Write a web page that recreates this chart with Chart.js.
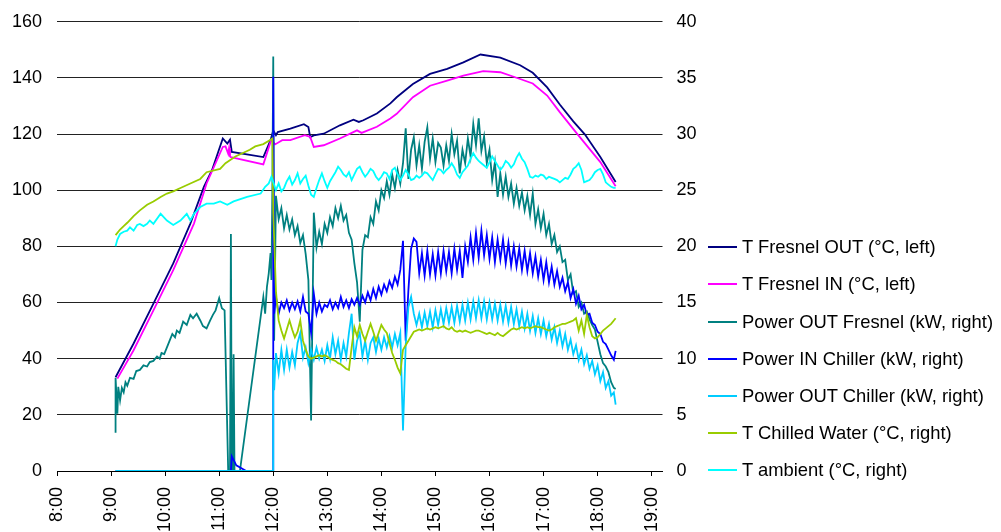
<!DOCTYPE html>
<html>
<head>
<meta charset="utf-8">
<script src="https://cdn.jsdelivr.net/npm/chart.js@4.4.0/dist/chart.umd.min.js"></script>
<style>
  html, body { margin: 0; padding: 0; background: #fff; overflow: hidden; }
  #wrap { position: relative; width: 1001px; height: 532px; }
  #legend { position: absolute; left: 708px; top: 0; font: 18.4px 'Liberation Sans', Arial, sans-serif; color: #000; }
  .item { position: absolute; left: 0; white-space: nowrap; height: 20px; line-height: 20px; }
  .swatch { position: absolute; left: 0; top: 9px; width: 29px; height: 2px; }
  .label { position: absolute; left: 34px; top: 0; }
</style>
</head>
<body>
<div id="wrap">
  <canvas id="chart" width="1001" height="532"></canvas>
  <div id="legend"></div>
</div>
<script>
// --- data ---
const seriesNames = [
  'T Fresnel OUT (°C, left)',
  'T Fresnel IN (°C, left)',
  'Power OUT Fresnel (kW, right)',
  'Power IN Chiller (kW, right)',
  'Power OUT Chiller (kW, right)',
  'T Chilled Water (°C, right)',
  'T ambient (°C, right)'
];
const seriesColors = ['#000080', '#FF00FF', '#008080', '#0000FF', '#00CCFF', '#99CC00', '#00FFFF'];

const hourTicks = ['8:00', '9:00', '10:00', '11:00', '12:00', '13:00', '14:00', '15:00', '16:00', '17:00', '18:00', '19:00'];

// temperatures of the collector (left axis)
const fresnelOutTimes = ['9:05', '9:25', '9:47', '10:09', '10:28', '10:43', '10:52', '11:04', '11:09', '11:12', '11:14', '11:49', '11:57', '12:00', '12:03', '12:05', '12:19', '12:34', '12:39', '12:41', '12:45', '12:56', '13:14', '13:29', '13:35', '13:40', '13:55', '14:10', '14:17', '14:35', '14:54', '15:13', '15:31', '15:50', '16:12', '16:34', '16:48', '17:04', '17:18', '17:33', '17:46', '18:03', '18:20'];
const fresnelOutValues = [33.4, 45.4, 59.6, 73.9, 88.1, 101.2, 107.1, 118.4, 116.6, 118.0, 113.6, 111.8, 117.8, 121.3, 119.6, 120.7, 121.9, 123.5, 122.5, 118.9, 119.5, 120.1, 123.1, 125.1, 124.3, 124.9, 127.3, 130.9, 133.1, 137.8, 141.4, 143.2, 145.5, 148.3, 147.2, 144.5, 141.8, 136.6, 130.5, 124.5, 119.8, 111.8, 102.9];

const fresnelInTimes = ['9:07', '9:25', '9:47', '10:09', '10:32', '10:46', '11:04', '11:07', '11:10', '11:11', '11:12', '11:13', '11:49', '11:57', '11:58', '12:02', '12:10', '12:19', '12:35', '12:41', '12:45', '12:56', '13:14', '13:33', '13:38', '13:55', '14:10', '14:17', '14:35', '14:54', '15:13', '15:31', '15:53', '16:12', '16:34', '16:48', '17:04', '17:18', '17:38', '18:03', '18:20'];
const fresnelInValues = [32.9, 43.0, 57.2, 71.5, 88.1, 102.4, 115.4, 115.6, 113.0, 115.0, 112.0, 111.8, 109.2, 117.2, 118.0, 116.3, 117.8, 117.8, 119.6, 119.0, 115.4, 116.0, 118.4, 121.3, 120.4, 122.6, 125.5, 127.2, 133.1, 137.2, 139.0, 140.8, 142.4, 142.0, 139.6, 138.0, 133.7, 127.8, 119.8, 110.0, 101.4];

// afternoon logger samples shared by the right-axis series
const pmTimes = [
  '12:03', '12:06', '12:09', '12:12', '12:15', '12:18', '12:21', '12:24', '12:27', '12:30',
  '12:33', '12:36', '12:39', '12:42', '12:45', '12:48', '12:51', '12:54', '12:57', '13:00',
  '13:03', '13:06', '13:09', '13:12', '13:15', '13:18', '13:21', '13:24', '13:27', '13:30',
  '13:33', '13:36', '13:39', '13:42', '13:45', '13:48', '13:51', '13:54', '13:57', '14:00',
  '14:03', '14:06', '14:09', '14:12', '14:15', '14:18', '14:21', '14:24', '14:27', '14:30',
  '14:33', '14:36', '14:39', '14:42', '14:45', '14:48', '14:51', '14:54', '14:57', '15:00',
  '15:03', '15:06', '15:09', '15:12', '15:15', '15:18', '15:21', '15:24', '15:27', '15:30',
  '15:33', '15:36', '15:39', '15:42', '15:45', '15:48', '15:51', '15:54', '15:57', '16:00',
  '16:03', '16:06', '16:09', '16:12', '16:15', '16:18', '16:21', '16:24', '16:27', '16:30',
  '16:33', '16:36', '16:39', '16:42', '16:45', '16:48', '16:51', '16:54', '16:57', '17:00',
  '17:03', '17:06', '17:09', '17:12', '17:15', '17:18', '17:21', '17:24', '17:27', '17:30',
  '17:33', '17:36', '17:39', '17:42', '17:45', '17:48', '17:51', '17:54', '17:57', '18:00',
  '18:03', '18:06', '18:09', '18:12', '18:15', '18:18', '18:20'
];

// Power OUT Fresnel (kW)
const powerOutFresnelAmTimes = ['9:05', '9:05', '9:07', '9:08', '9:10', '9:12', '9:14', '9:16', '9:18', '9:21', '9:25', '9:28', '9:32', '9:36', '9:40', '9:43', '9:47', '9:51', '9:54', '9:56', '9:59', '10:02', '10:05', '10:08', '10:11', '10:13', '10:16', '10:20', '10:24', '10:28', '10:31', '10:35', '10:39', '10:42', '10:46', '10:50', '10:53', '10:56', '11:00', '11:03', '11:06', '11:10', '11:12', '11:13', '11:14', '11:15', '11:16', '11:17', '11:23', '11:49', '11:51', '11:53', '11:55', '11:57', '11:58', '11:59', '12:00', '12:01'];
const powerOutFresnelAmValues = [3.4, 8.3, 5.1, 7.5, 6.3, 7.4, 7.0, 7.9, 7.6, 8.3, 8.2, 8.9, 9.0, 9.4, 9.3, 9.7, 9.8, 10.2, 10.0, 10.5, 10.4, 11.0, 11.6, 12.2, 11.9, 12.5, 12.3, 13.3, 13.0, 13.9, 13.6, 14.0, 13.4, 12.9, 12.7, 13.4, 13.9, 14.3, 15.4, 14.5, 14.3, 0, 0, 21.1, 0, 0, 10.4, 0, 0, 15.5, 14.0, 16.4, 17.6, 19.4, 17.0, 25.0, 36.9, 11.6];
const powerOutFresnelPmValues = [
  24.5, 22.4, 23.4, 21.6, 22.8, 21.5, 22.4, 21.0, 21.8, 20.3,
  21.0, 19.3, 17.0, 4.5, 23.0, 19.9, 21.3, 20.2, 22.0, 21.2,
  22.6, 21.8, 23.4, 22.5, 23.6, 22.3, 22.8, 21.2, 20.6, 18.5,
  16.8, 13.3, 19.7, 21.0, 20.8, 22.6, 22.0, 24.0, 23.2, 25.0,
  24.3, 25.8, 24.6, 26.4, 25.2, 26.8, 25.6, 27.4, 30.5, 26.0,
  28.6, 29.7, 27.2, 29.0, 26.9, 29.3, 30.6, 27.8, 29.6, 27.5,
  29.2, 28.8, 27.2, 29.0, 27.6, 30.0, 28.2, 29.4, 26.5, 28.6,
  27.4, 29.6, 28.0, 30.9, 29.0, 31.4, 28.5, 29.8, 27.4, 28.6,
  25.9, 27.5, 24.4, 26.5, 24.6, 26.2, 24.4, 25.6, 23.8, 25.2,
  23.6, 24.8, 23.2, 24.5, 22.8, 24.7, 22.0, 23.3, 21.6, 22.9,
  21.0, 22.0, 20.2, 21.0, 19.5, 20.0, 18.6, 18.8, 17.0, 17.5,
  15.8, 16.0, 14.6, 15.0, 14.0, 14.2, 13.5, 13.0, 12.6, 11.5,
  10.4, 9.6, 9.3, 8.8, 7.9, 7.4, 7.3
];

// Power IN Chiller (kW)
const powerInChillerAmTimes = ['9:05', '11:13', '11:14', '11:19', '11:30', '12:00', '12:00', '12:01'];
const powerInChillerAmValues = [0, 0, 1.3, 0.5, 0, 0, 35.1, 14.0];
const powerInChillerPmValues = [
  15.5, 14.0, 15.0, 14.5, 15.2, 14.3, 15.0, 14.4, 15.1, 14.2,
  15.5, 14.2, 14.0, 12.3, 15.8, 14.0, 15.0, 14.2, 14.8, 14.6,
  15.2, 14.4, 15.0, 14.5, 15.5, 14.6, 15.2, 14.5, 15.3, 14.8,
  15.4, 14.8, 15.6, 15.0, 15.9, 15.2, 16.2, 15.4, 16.4, 15.7,
  16.6, 16.0, 16.9, 16.3, 17.3, 16.6, 17.9, 20.5, 11.6, 16.1,
  19.8, 20.7, 20.4, 17.6, 19.4, 17.4, 19.6, 17.5, 19.3, 17.4,
  19.5, 17.6, 19.6, 17.8, 19.5, 17.6, 19.8, 17.9, 19.6, 17.2,
  20.0, 18.6, 20.8, 18.8, 21.2, 19.0, 21.4, 19.2, 21.0, 18.9,
  20.8, 18.6, 20.6, 18.8, 20.6, 18.5, 20.3, 18.3, 20.0, 18.2,
  19.8, 17.9, 19.6, 17.8, 19.4, 17.6, 19.1, 17.3, 18.8, 17.0,
  18.6, 16.8, 18.2, 16.6, 17.8, 16.4, 17.2, 16.0, 16.8, 15.4,
  16.2, 14.9, 15.6, 14.4, 14.8, 13.9, 14.0, 13.2, 13.0, 12.4,
  12.2, 11.5, 11.3, 10.8, 10.3, 9.9, 10.7
];

// Power OUT Chiller (kW)
const powerOutChillerAmTimes = ['9:05', '12:00', '12:00', '12:01'];
const powerOutChillerAmValues = [0, 0, 9.9, 7.2];
const powerOutChillerPmValues = [
  10.5, 8.7, 10.8, 9.0, 10.8, 9.2, 10.6, 9.4, 11.4, 12.3,
  10.1, 11.0, 9.6, 10.8, 9.9, 11.0, 10.0, 10.8, 9.8, 11.2,
  10.0, 11.9, 10.4, 11.6, 9.9, 11.4, 10.2, 12.3, 14.0, 9.9,
  11.6, 12.3, 10.2, 11.6, 9.9, 11.4, 11.9, 10.6, 11.8, 10.8,
  11.9, 11.0, 12.0, 11.0, 12.2, 11.2, 12.3, 3.6, 11.2, 14.6,
  15.5, 14.0, 13.0, 14.0, 12.8, 14.1, 12.9, 14.2, 12.8, 14.3,
  13.0, 14.4, 13.1, 14.5, 13.2, 14.6, 13.2, 14.7, 13.3, 14.8,
  13.4, 15.0, 13.5, 15.1, 13.6, 15.2, 13.6, 15.1, 13.5, 15.0,
  13.5, 14.9, 13.4, 14.8, 13.3, 14.7, 13.2, 14.6, 13.1, 14.4,
  12.9, 14.2, 12.7, 14.0, 12.5, 13.8, 12.3, 13.6, 12.2, 13.4,
  12.0, 13.1, 11.7, 12.8, 11.4, 12.5, 11.1, 12.2, 10.8, 11.7,
  10.4, 11.2, 9.9, 10.8, 9.5, 10.3, 9.1, 9.8, 8.6, 9.4,
  8.0, 8.8, 7.4, 8.0, 6.7, 7.0, 5.9
];

// T Chilled Water (°C)
const chilledWaterAmTimes = ['9:05', '9:10', '9:14', '9:18', '9:25', '9:32', '9:40', '9:47', '9:55', '10:02', '10:09', '10:17', '10:28', '10:39', '10:46', '11:01', '11:07', '11:18', '11:34', '11:40', '11:49', '11:57', '11:59', '12:00'];
const chilledWaterAmValues = [21.0, 21.5, 21.8, 22.1, 22.7, 23.2, 23.7, 24.0, 24.4, 24.7, 24.9, 25.2, 25.6, 26.0, 26.6, 26.9, 27.4, 28.0, 28.6, 28.9, 29.1, 29.5, 29.6, 23.0];
const chilledWaterPmValues = [
  16.0, 13.4, 12.5, 11.8, 12.6, 13.4, 12.6, 11.9, 12.4, 13.4,
  11.6, 10.8, 10.2, 10.0, 10.1, 10.2, 10.3, 10.2, 10.3, 10.2,
  10.0, 9.9, 9.8, 9.6, 9.5, 9.3, 9.1, 9.0, 11.0, 12.8,
  12.0, 13.0, 12.2, 11.6, 12.4, 13.1, 12.4, 11.6, 12.3, 13.0,
  12.6, 12.3, 11.4, 10.5, 9.9, 9.2, 8.7, 10.8, 11.2, 11.6,
  12.0, 12.4, 12.5, 12.6, 12.5, 12.6, 12.7, 12.6, 12.7, 12.8,
  12.7, 12.8, 12.9, 12.7, 12.6, 12.8, 12.5, 12.4, 12.5, 12.4,
  12.5, 12.4, 12.3, 12.4, 12.5, 12.5, 12.4, 12.3, 12.2, 12.3,
  12.2, 12.1, 12.3, 12.1, 12.0, 12.2, 12.4, 12.6, 12.7, 12.6,
  12.7, 12.8, 12.7, 12.8, 12.7, 12.8, 12.9, 12.8, 12.8, 12.7,
  12.6, 12.5, 12.6, 12.8, 12.9, 13.0, 13.1, 13.1, 13.2, 13.3,
  13.4, 13.6, 12.5, 13.4, 12.2, 13.9, 12.8, 12.0, 11.8, 11.9,
  12.2, 12.5, 12.7, 12.9, 13.1, 13.4, 13.6
];

// T ambient (°C)
const ambientAmTimes = ['9:05', '9:07', '9:10', '9:14', '9:18', '9:21', '9:25', '9:29', '9:32', '9:36', '9:40', '9:43', '9:47', '9:55', '10:02', '10:09', '10:17', '10:24', '10:28', '10:32', '10:39', '10:46', '10:54', '11:01', '11:09', '11:16', '11:31', '11:46', '11:51', '11:55', '11:58'];
const ambientAmValues = [20.0, 20.6, 21.1, 21.3, 21.4, 21.7, 21.4, 21.9, 22.0, 21.8, 22.0, 22.3, 22.0, 22.9, 22.3, 21.9, 22.3, 22.9, 22.3, 22.9, 23.5, 23.8, 23.8, 24.0, 23.7, 24.0, 24.4, 24.7, 25.3, 25.6, 26.2];
const ambientPmValues = [
  25.0, 25.6, 24.9, 25.2, 25.8, 26.2, 25.5, 25.9, 26.5, 25.6,
  26.0, 26.3, 25.4, 24.6, 24.4, 25.2, 25.9, 26.5, 25.8, 25.2,
  25.8, 26.2, 26.6, 27.1, 26.8, 26.4, 26.2, 26.6, 25.9, 26.4,
  26.9, 27.1, 26.6, 26.2, 26.5, 26.9, 26.7, 26.2, 25.9, 26.2,
  26.6, 26.5, 26.0, 26.8, 27.0, 26.4, 25.9, 26.3, 26.8, 26.4,
  25.9, 26.0, 26.3, 26.1, 26.3, 26.6, 26.5, 26.2, 25.9, 26.4,
  26.9, 26.8, 26.5, 26.8, 27.0, 27.4, 27.0, 26.4, 26.1, 26.6,
  26.9, 27.2, 27.8, 28.3, 27.9, 27.6, 27.4, 27.2, 27.0, 27.5,
  28.0, 27.6, 27.2, 26.8, 27.1, 27.6, 27.4, 27.0, 27.3, 27.9,
  28.3, 27.8, 27.5, 26.9, 26.2, 26.1, 26.3, 26.2, 26.4, 26.3,
  26.0, 26.2, 26.1, 26.0, 25.9, 25.7, 25.9, 26.1, 26.0, 26.4,
  26.9, 27.1, 27.4, 26.8, 25.7, 25.8, 25.9, 26.2, 26.6, 26.8,
  26.9, 26.4, 25.7, 25.5, 25.3, 25.2, 25.2
];

// --- helpers ---
const toHours = (t) => {
  const [h, m] = t.split(':').map(Number);
  return h + m / 60;
};
const toPoints = (times, values) => times.map((t, i) => ({ x: toHours(t), y: values[i] }));
const joined = (amTimes, amValues, pmValues) => toPoints(amTimes, amValues).concat(toPoints(pmTimes, pmValues));

const seriesData = [
  toPoints(fresnelOutTimes, fresnelOutValues),
  toPoints(fresnelInTimes, fresnelInValues),
  joined(powerOutFresnelAmTimes, powerOutFresnelAmValues, powerOutFresnelPmValues),
  joined(powerInChillerAmTimes, powerInChillerAmValues, powerInChillerPmValues),
  joined(powerOutChillerAmTimes, powerOutChillerAmValues, powerOutChillerPmValues),
  joined(chilledWaterAmTimes, chilledWaterAmValues, chilledWaterPmValues),
  joined(ambientAmTimes, ambientAmValues, ambientPmValues)
];
const axisOf = ['y', 'y', 'y1', 'y1', 'y1', 'y1', 'y1'];

const tickFont = { family: "'Liberation Sans', Arial, sans-serif", size: 18 };
const hourLabel = (v) => {
  const lbl = hourTicks.find(t => toHours(t) === v);
  return lbl || '';
};
// fixed axis box, and no extra label padding pushing the plot down
const fixWidth = (w) => (s) => {
  s.width = w;
  s.paddingTop = 0;
  s.paddingBottom = 0;
};

const datasets = seriesNames.map((name, i) => ({
  label: name,
  data: seriesData[i],
  yAxisID: axisOf[i],
  borderColor: seriesColors[i],
  backgroundColor: seriesColors[i],
  borderWidth: 1.8,
  pointRadius: 0,
  tension: 0,
  fill: false,
  // later series sit on top, like the spreadsheet original
  order: seriesNames.length - 1 - i
}));

const ctx = document.getElementById('chart').getContext('2d');
new Chart(ctx, {
  type: 'line',
  data: { datasets },
  options: {
    responsive: false,
    animation: false,
    events: [],
    layout: { padding: { top: 21.7, right: 298.5, bottom: 0, left: 0 } },
    plugins: { legend: { display: false }, tooltip: { enabled: false } },
    scales: {
      x: {
        type: 'linear',
        min: toHours(hourTicks[0]),
        max: 19.2,
        afterFit: (s) => { s.height = 61; },
        ticks: {
          stepSize: 1, includeBounds: false, autoSkip: false,
          minRotation: 90, maxRotation: 90, padding: 11,
          color: '#000', font: tickFont,
          callback: hourLabel
        },
        grid: { drawOnChartArea: false, drawTicks: true, tickLength: 5, color: '#000' },
        border: { display: true, color: '#000', width: 1 }
      },
      y: {
        position: 'left', min: 0, max: 160,
        afterFit: fixWidth(57),
        ticks: { stepSize: 20, padding: 15, color: '#000', font: tickFont },
        grid: { color: '#222', drawTicks: false },
        border: { display: false }
      },
      y1: {
        position: 'right', min: 0, max: 40,
        afterFit: fixWidth(40),
        ticks: { stepSize: 5, padding: 14, color: '#000', font: tickFont },
        grid: { display: false, drawTicks: false },
        border: { display: false }
      }
    }
  }
});

// legend on the right, one row per series
const legendBox = document.getElementById('legend');
const legendFirstY = 247.3, legendStep = 37.1;
seriesNames.forEach((name, i) => {
  const item = document.createElement('div');
  item.className = 'item';
  item.style.top = (legendFirstY + i * legendStep - 10) + 'px';
  item.innerHTML = '<span class="swatch" style="background:' + seriesColors[i] + '"></span><span class="label"></span>';
  item.querySelector('.label').textContent = name;
  legendBox.appendChild(item);
});
</script>
</body>
</html>
